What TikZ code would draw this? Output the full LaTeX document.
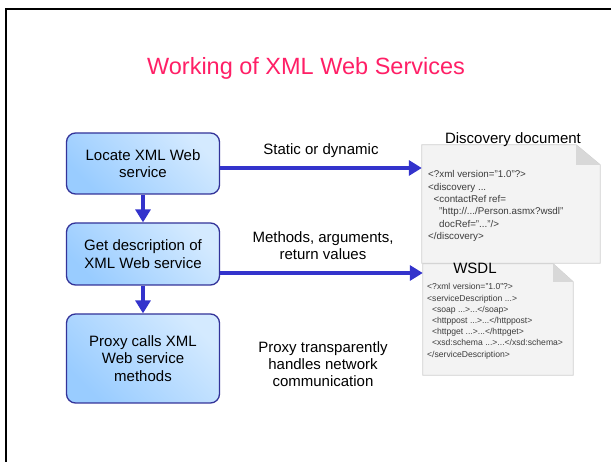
\documentclass[tikz,border=0pt]{standalone}
\usepackage{fontspec}
\setmainfont{Liberation Sans}
\usetikzlibrary{arrows.meta}
\definecolor{titlepink}{HTML}{FF1F66}
\definecolor{boxline}{HTML}{333399}
\definecolor{boxdark}{HTML}{99CCFF}
\definecolor{boxlight}{HTML}{D4EAFF}
\definecolor{flowblue}{HTML}{3333CC}
\definecolor{paperfill}{HTML}{F3F3F3}
\definecolor{paperline}{HTML}{CFCFCF}
\definecolor{foldgray}{HTML}{D8D8D8}
\definecolor{codegray}{HTML}{3C3C3C}
\begin{document}
\begin{tikzpicture}[x=1pt,y=-1pt,
  stepbox/.style={draw=boxline, line width=1.3pt, rounded corners=9pt,
    bottom color=boxdark, top color=boxlight, shading angle=-45,
    minimum width=153pt, align=center, inner sep=0pt,
    font=\fontsize{15}{17.5}\selectfont},
  flow/.style={draw=flowblue, line width=4pt, -{Triangle[length=13pt,width=15pt]}},
  lbl/.style={align=center, inner sep=0pt, font=\fontsize{15}{17}\selectfont},
  paper/.style={inner sep=0pt},
  paperedge/.style={draw=paperline, fill=paperfill, line width=0.8pt},
  code/.style={anchor=north west, align=left, inner sep=0pt, text=codegray},
]
\useasboundingbox (0,0) rectangle (611,462);

% slide frame
\draw[line width=2.6pt] (6,480) -- (6,9) -- (630,9);

% title
\node[text=titlepink, font=\fontsize{23.5}{26}\selectfont, anchor=base] (title) at (306,75) {Working of XML Web Services};

% process steps
\node[stepbox, minimum height=61pt] (locate) at (143,163.5) {Locate XML Web\\service};
\node[stepbox, minimum height=62pt] (describe) at (143,254) {Get description of\\XML Web service};
\node[stepbox, minimum height=89pt] (proxy) at (143,358.5) {Proxy calls XML\\Web service\\methods};

% documents
\node[paper, minimum width=178pt, minimum height=118pt] (disco) at (511,204) {};
\node[paper, minimum width=150pt, minimum height=111pt] (wsdl) at (498,319.5) {};

\draw[paperedge] (disco.north west) -- ([xshift=-24pt]disco.north east)
  -- ([yshift=-20pt]disco.north east) -- (disco.south east) -- (disco.south west) -- cycle;
\fill[foldgray] ([xshift=-24pt]disco.north east) -- ([xshift=-24pt,yshift=-20pt]disco.north east)
  -- ([yshift=-20pt]disco.north east) -- cycle;

\draw[paperedge] (wsdl.north west) -- ([xshift=-20pt]wsdl.north east)
  -- ([yshift=-18pt]wsdl.north east) -- (wsdl.south east) -- (wsdl.south west) -- cycle;
\fill[foldgray] ([xshift=-20pt]wsdl.north east) -- ([xshift=-20pt,yshift=-18pt]wsdl.north east)
  -- ([yshift=-18pt]wsdl.north east) -- cycle;

\node[font=\fontsize{15}{17}\selectfont, anchor=base, inner sep=0pt] (discotitle) at (513,144) {Discovery document};
\node[font=\fontsize{15}{17}\selectfont, anchor=base, inner sep=0pt] (wsdltitle) at (475,274) {WSDL};

\node[code, font=\fontsize{9.8}{12.4}\selectfont] (discocode) at (428,170.5)
  {<?xml version="1.0"?>\\
   <discovery ...\\
   \hspace*{5.5pt}<contactRef ref=\\
   \hspace*{11pt}"http://.../Person.asmx?wsdl"\\
   \hspace*{11pt}docRef="..."/>\\
   </discovery>};

\node[code, font=\fontsize{8.6}{11.2}\selectfont] (wsdlcode) at (427,283.5)
  {<?xml version="1.0"?>\\
   <serviceDescription ...>\\
   \hspace*{4.8pt}<soap ...>...</soap>\\
   \hspace*{4.8pt}<httppost ...>...</httppost>\\
   \hspace*{4.8pt}<httpget ...>...</httpget>\\
   \hspace*{4.8pt}<xsd:schema ...>...</xsd:schema>\\
   </serviceDescription>};

% connectors
\draw[flow] (locate.south) -- (describe.north);
\draw[flow] (describe.south) -- (proxy.north);
\draw[flow] ([yshift=-4.5pt]locate.east) -- ([yshift=-4.5pt]locate.east -| disco.west);
\draw[flow] ([yshift=-19pt]describe.east) -- ([yshift=-19pt]describe.east -| wsdl.west);

% labels
\node[lbl] (lblstatic) at (321,150.5) {Static or dynamic};
\node[lbl] (lblmethods) at (323,245.5) {Methods, arguments,\\return values};
\node[lbl] (lblproxy) at (323,364.5) {Proxy transparently\\handles network\\communication};
\end{tikzpicture}
\end{document}
